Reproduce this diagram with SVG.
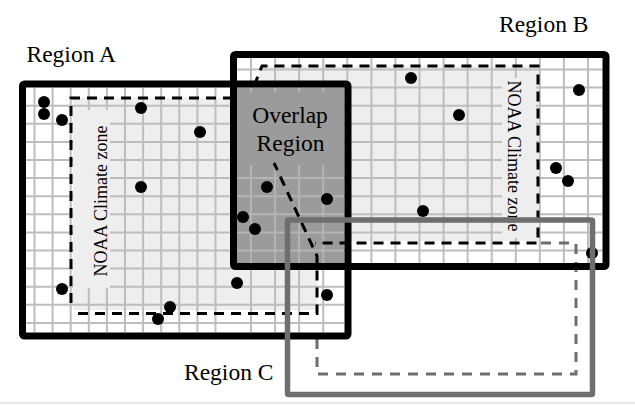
<svg xmlns="http://www.w3.org/2000/svg" width="635" height="405" viewBox="0 0 635 405">
<defs>
<style>
.grid{stroke:#bdbdbd;stroke-width:2;fill:none}
.ogrid{stroke:#b4b4b4;stroke-width:2;fill:none}
.zone{fill:#eeeeee}
.dash{stroke:#000;stroke-width:3;stroke-dasharray:10 7;fill:none}
.gdash{stroke:#6e6e6e;stroke-width:3;stroke-dasharray:10 8;fill:none}
.border{stroke:#000;stroke-width:7;fill:none}
.cborder{stroke:#6e6e6e;stroke-width:5.5;fill:none}
.lbl{font-family:"Liberation Serif","Times New Roman",serif;font-size:23.5px;fill:#000}
.zt{font-family:"Liberation Serif","Times New Roman",serif;font-size:18px;fill:#000}
.dot{fill:#000}
</style>
</defs>
<rect x="0" y="0" width="635" height="405" fill="#fff"/>
<line x1="0" y1="403" x2="635" y2="403" stroke="#e2e2e2" stroke-width="1.5"/>

<g id="climate-zone-fills">
<rect class="zone" x="73" y="98" width="244" height="212"/>
<polygon class="zone" points="254,86 262,66 538,66 538,241 237,241 237,86"/>
</g>

<g id="grid">
<path class="grid" d="M26 105.7H344M26 123.8H344M26 141.9H344M26 160H344M26 178.1H344M26 196.2H344M26 214.3H344M26 232.4H344M26 250.5H344M26 268.6H344M26 286.7H344M26 304.8H344M26 322.9H344
M237 69.5H602M237 87.6H602M237 105.7H602M237 123.8H602M237 141.9H602M237 160H602M237 178.1H602M237 196.2H602M237 214.3H602M237 232.4H602M237 250.5H602
M34.5 88V332M52.6 88V332M70.7 88V332M88.8 88V332M106.9 88V332M125 88V332M143.1 88V332M161.2 88V332M179.3 88V332M197.4 88V332M215.5 88V332
M251 58V332M275.1 58V332M299.1 58V332M323.2 58V332
M347.3 58V263M371.4 58V263M395.4 58V263M419.5 58V263M443.6 58V263M467.6 58V263M491.7 58V263M515.8 58V263M539.8 58V263M563.9 58V263M588 58V263"/>
</g>

<g id="zone-label-a">
<rect class="zone" x="73" y="110" width="37" height="178"/>
<text class="zt" text-anchor="middle" transform="translate(107,201) rotate(-90)">NOAA Climate zone</text>
</g>
<g id="zone-label-b">
<rect class="zone" x="502" y="78" width="34" height="160"/>
<text class="zt" text-anchor="middle" transform="translate(508,156) rotate(90)">NOAA Climate zone</text>
</g>

<g id="overlap-region">
<rect x="237" y="88" width="107.5" height="175" fill="#9b9b9b"/>
<path class="ogrid" d="M251 165V263M275.1 165V263M299.1 165V263M323.2 165V263M237 178.1H344M237 196.2H344M237 214.3H344M237 232.4H344M237 250.5H344
M251 88V92M275.1 88V92M299.1 88V92M323.2 88V92"/>
</g>

<g id="connectors">
<path class="gdash" d="M541 243H576V374H317V338"/>
<path class="dash" d="M233 98H71V310M78 313.5H317V256L274 163"/>
<path class="dash" d="M254 86L262 66H538V243H315"/>
</g>

<g id="overlap-label">
<text class="lbl" text-anchor="middle" x="290" y="122.5">Overlap</text>
<text class="lbl" text-anchor="middle" x="290.5" y="150.5">Region</text>
</g>

<g id="points">
<circle class="dot" cx="44" cy="102" r="6"/>
<circle class="dot" cx="44" cy="114" r="6"/>
<circle class="dot" cx="62" cy="120" r="6"/>
<circle class="dot" cx="141" cy="108" r="6"/>
<circle class="dot" cx="200" cy="132" r="6"/>
<circle class="dot" cx="141" cy="187" r="6"/>
<circle class="dot" cx="267" cy="187" r="6"/>
<circle class="dot" cx="327" cy="199" r="6"/>
<circle class="dot" cx="243" cy="217" r="6"/>
<circle class="dot" cx="255" cy="229" r="6"/>
<circle class="dot" cx="237" cy="283" r="6"/>
<circle class="dot" cx="62" cy="289" r="6"/>
<circle class="dot" cx="170" cy="307" r="6"/>
<circle class="dot" cx="158" cy="319" r="6"/>
<circle class="dot" cx="327" cy="295" r="6"/>
<circle class="dot" cx="411" cy="78" r="6"/>
<circle class="dot" cx="459" cy="115" r="6"/>
<circle class="dot" cx="579" cy="90" r="6"/>
<circle class="dot" cx="556" cy="168" r="6"/>
<circle class="dot" cx="568" cy="181" r="6"/>
<circle class="dot" cx="423" cy="211" r="6"/>
<circle class="dot" cx="592" cy="253" r="6"/>
</g>

<g id="region-a">
<rect class="border" x="22.5" y="84" width="325.5" height="252" rx="2"/>
<text class="lbl" x="26.5" y="62">Region A</text>
</g>
<g id="region-b">
<rect class="border" x="233.5" y="54.5" width="372.5" height="212" rx="2"/>
<text class="lbl" x="499" y="32">Region B</text>
</g>
<g id="region-c">
<rect class="cborder" x="287.5" y="220" width="305" height="174.5" rx="1"/>
<text class="lbl" x="184" y="380">Region C</text>
</g>
</svg>
